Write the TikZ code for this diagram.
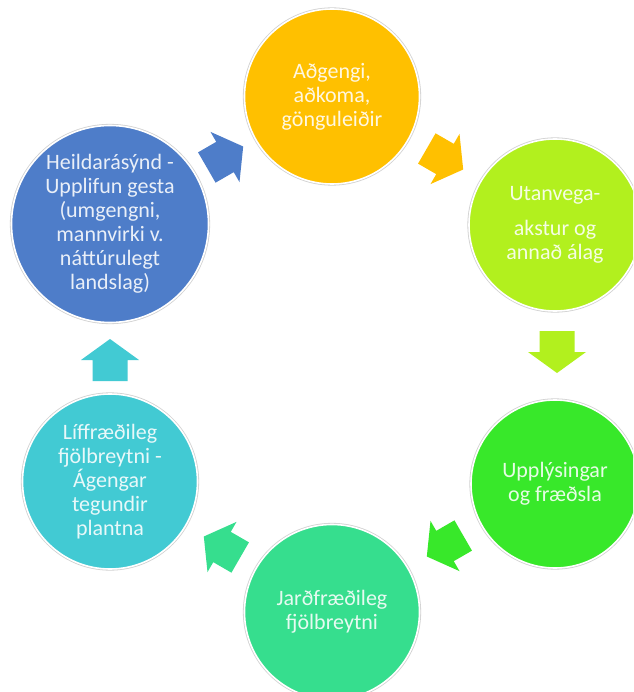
\documentclass[tikz,border=0pt]{standalone}
\usepackage{fontspec}
\setmainfont{Carlito}
\definecolor{cyel}{HTML}{FFC000}
\definecolor{clime}{HTML}{B2F01E}
\definecolor{cgreen}{HTML}{38E82A}
\definecolor{cteal}{HTML}{36DE8E}
\definecolor{ccyan}{HTML}{42CAD3}
\definecolor{cblue}{HTML}{4E7DC9}
\begin{document}
\begin{tikzpicture}[x=1pt,y=1pt,
  disc/.style={circle, inner sep=0pt, draw=white, line width=1.6pt,
    preaction={draw=black!18, line width=3.2pt}},
  lbl/.style={align=center, text=white, text opacity=0.88,
    font=\fontsize{22}{24}\selectfont, inner sep=0pt},
  blockarrow/.pic={\path[pic actions] (-21,-17.5) -- (0,-17.5) -- (0,-29) -- (21,0)
    -- (0,29) -- (0,17.5) -- (-21,17.5) -- cycle;}]
\useasboundingbox (0,0) rectangle (633,-692);
\clip (0,0) rectangle (633,-692);
\fill[white] (0,0) rectangle (633,-692);

\node[disc, fill=cyel,   minimum size=175] (c1) at (332,-96.5) {};
\node[disc, fill=clime,  minimum size=172] (c2) at (555,-225) {};
\node[disc, fill=cgreen, minimum size=168] (c3) at (555,-484) {};
\node[disc, fill=cteal,  minimum size=175] (c4) at (332,-612) {};
\node[disc, fill=ccyan,  minimum size=175] (c5) at (110,-481.5) {};
\node[disc, fill=cblue,  minimum size=197] (c6) at (110,-224) {};

\node[lbl] (t1) at (c1) {Aðgengi,\\aðkoma,\\gönguleiðir};
\node[lbl] (t2) at (c2) {Utanvega-\\[11pt]akstur og\\annað álag};
\node[lbl] (t3) at (c3) {Upplýsingar\\og fræðsla};
\node[lbl] (t4) at (c4) {Jarðfræðileg\\fjölbreytni};
\node[lbl] (t5) at (c5) {Líffræðileg\\fjölbreytni -\\Ágengar\\tegundir\\plantna};
\node[lbl] (t6) at (c6) {Heildarásýnd -\\Upplifun gesta\\(umgengni,\\mannvirki v.\\náttúrulegt\\landslag)};

\pic[fill=cblue,  rotate=30]   at (225,-157) {blockarrow};
\pic[fill=cyel,   rotate=-30]  at (445,-159) {blockarrow};
\pic[fill=clime,  rotate=-90]  at (557,-352) {blockarrow};
\pic[fill=cgreen, rotate=-150] at (445,-546) {blockarrow};
\pic[fill=cteal,  rotate=150]  at (222,-547) {blockarrow};
\pic[fill=ccyan,  rotate=90]   at (110,-360) {blockarrow};
\end{tikzpicture}
\end{document}
